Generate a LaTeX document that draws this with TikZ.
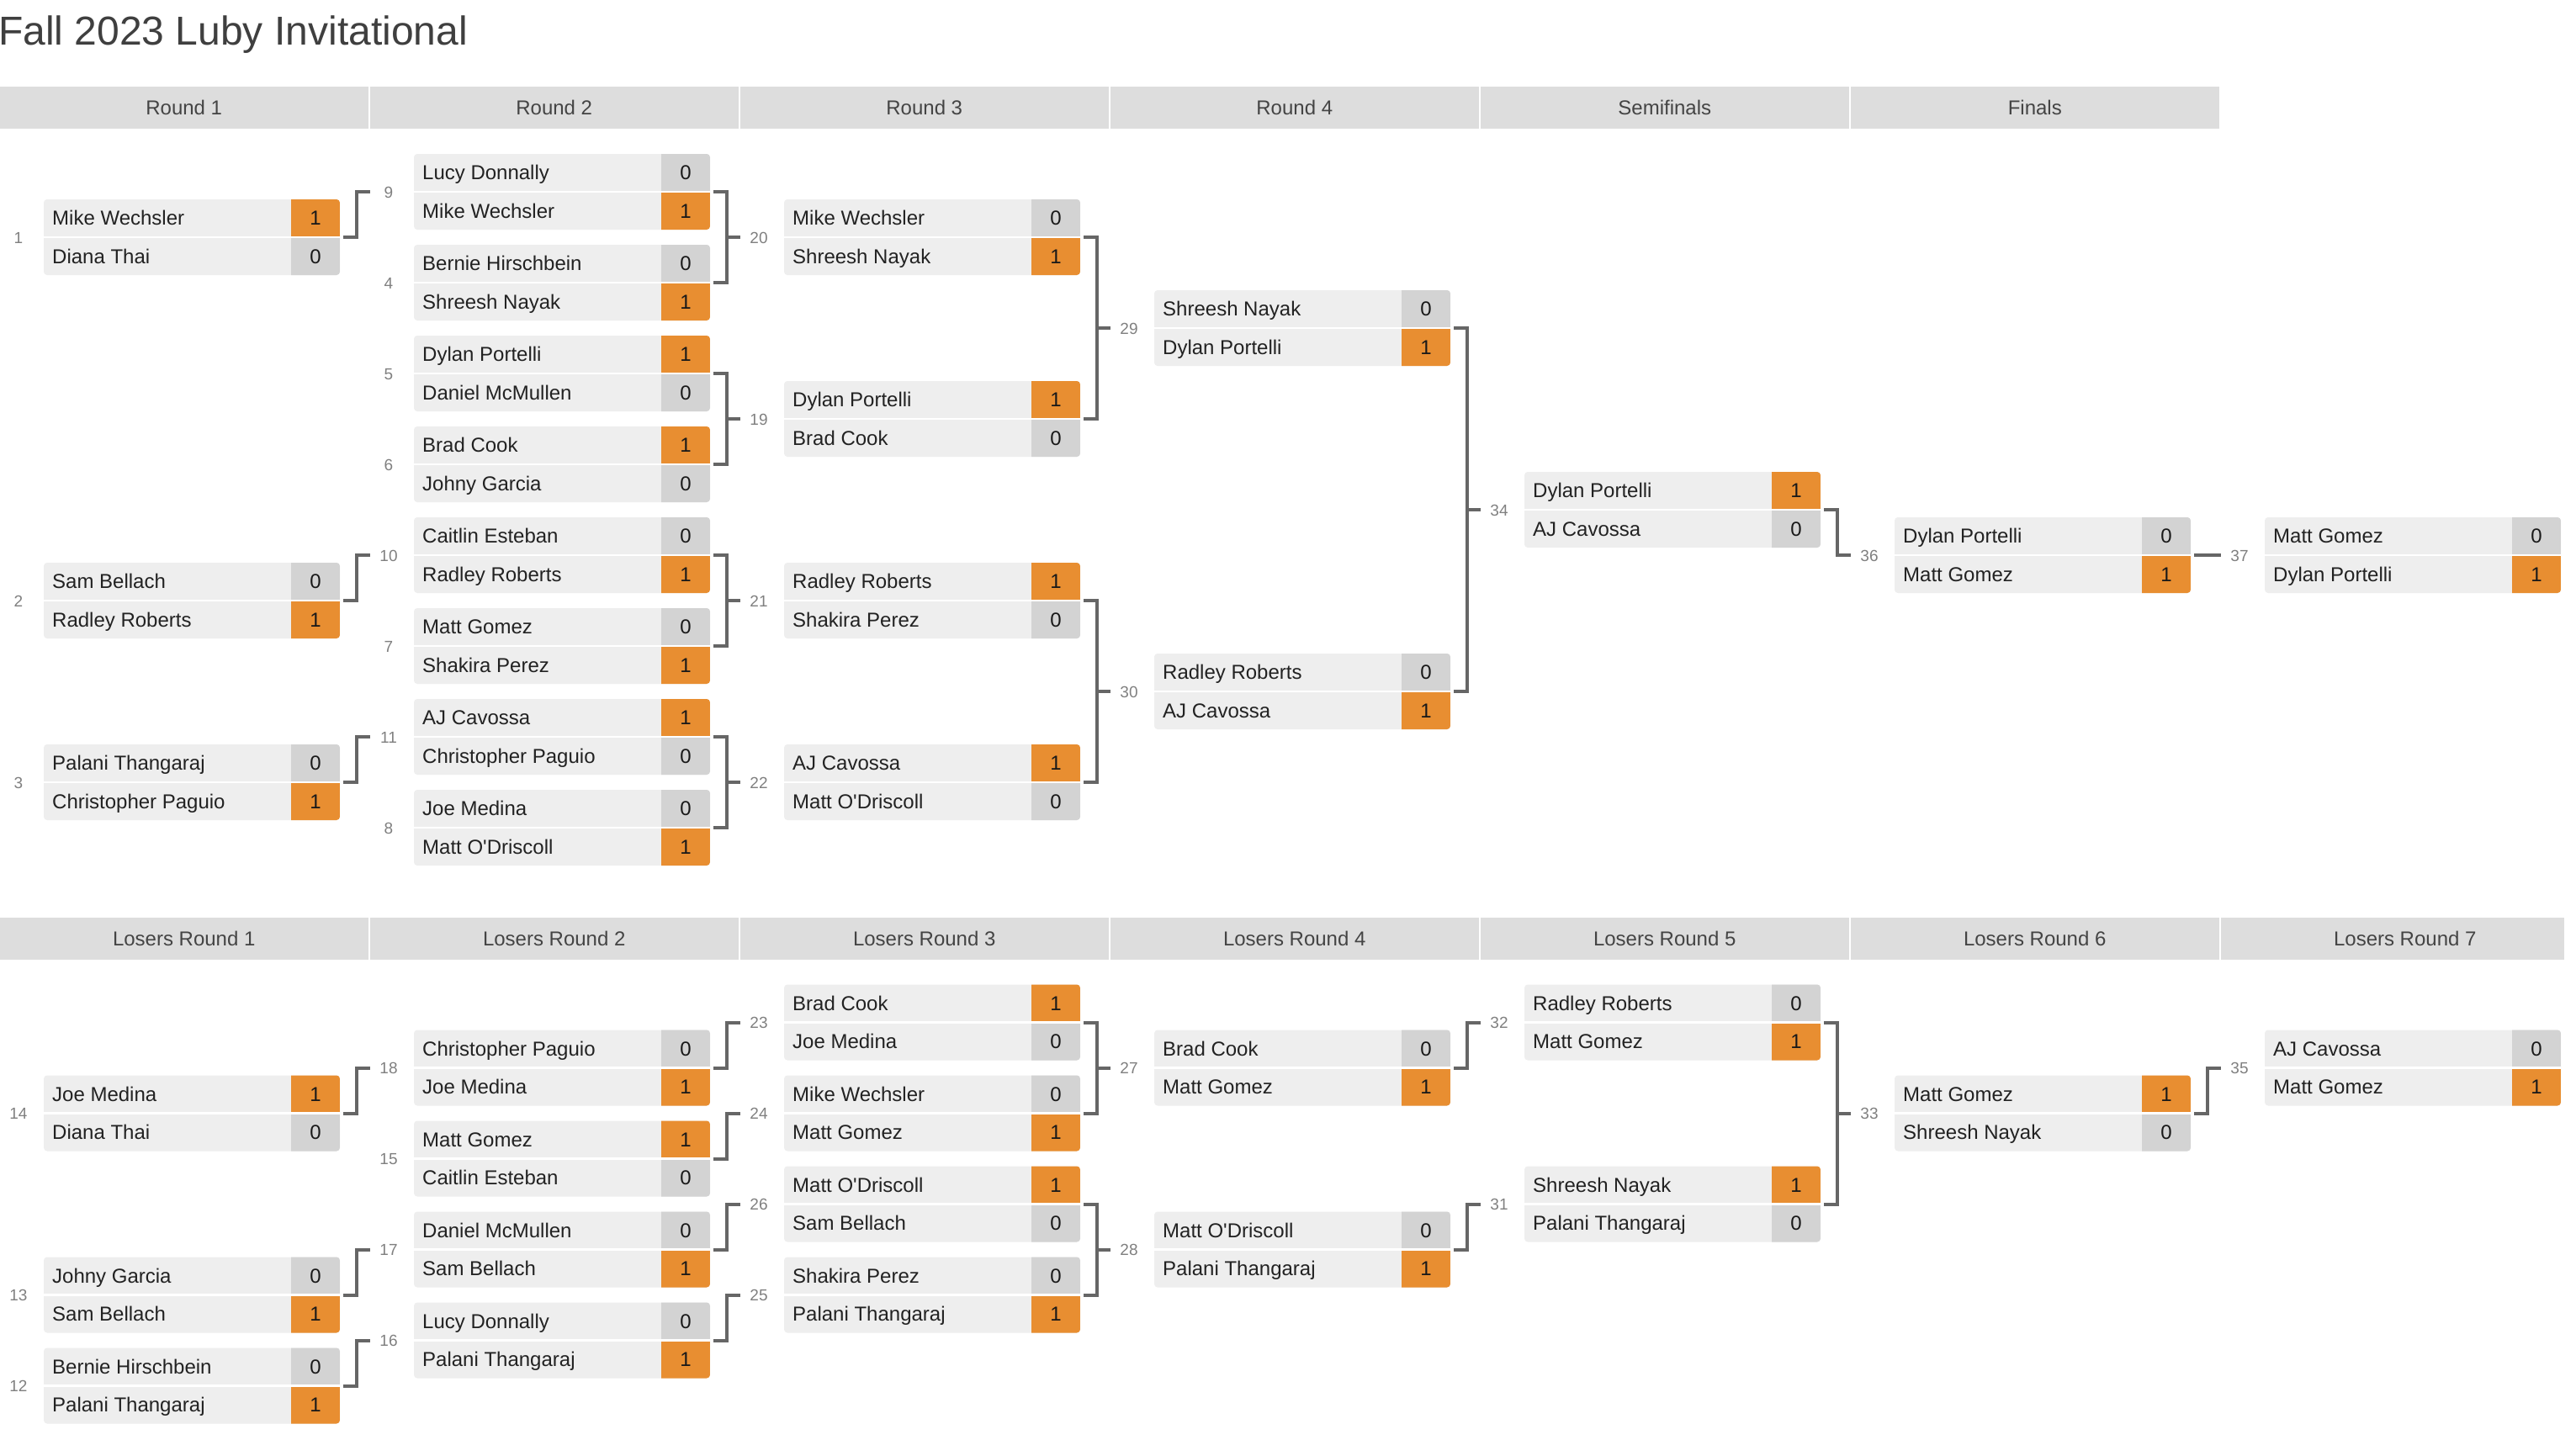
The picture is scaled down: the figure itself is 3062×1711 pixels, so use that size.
\documentclass[tikz,border=0pt]{standalone}
\usepackage{fontspec}
\setmainfont{Liberation Sans}[Ligatures=TeXOff]
\definecolor{boxbg}{HTML}{EEEEEE}
\definecolor{losecell}{HTML}{D3D3D3}
\definecolor{wincell}{HTML}{E88E31}
\definecolor{hdrbg}{HTML}{DDDDDD}
\definecolor{linecol}{HTML}{666666}
\definecolor{numcol}{HTML}{808080}
\definecolor{hdrtext}{HTML}{444444}
\definecolor{titlecol}{HTML}{3F3F3F}
\definecolor{nametext}{HTML}{222222}
\tikzset{
  matchbox/.style={draw=none, fill=boxbg, rounded corners=4pt, minimum width=352pt, minimum height=90pt, inner sep=0pt, outer sep=0pt},
  pname/.style={anchor=base west, inner sep=0pt, font=\fontsize{24}{28}\selectfont, text=nametext},
  pscore/.style={anchor=base, inner sep=0pt, font=\fontsize{24}{28}\selectfont, text=black!90},
  mnum/.style={anchor=base, inner sep=0pt, font=\fontsize{19}{22}\selectfont, text=numcol},
  hdrbar/.style={draw=none, fill=hdrbg, minimum height=50pt, inner sep=0pt, outer sep=0pt},
  hdrlabel/.style={anchor=base, inner sep=0pt, font=\fontsize{24}{28}\selectfont, text=hdrtext},
  link/.style={draw=linecol, line width=4pt, line cap=butt, line join=miter},
}
% #1 id, #2 column, #3 centre y, #4 name1, #5 score1, #6 name2, #7 score2
\newcommand\bmatch[7]{%
  \pgfmathsetmacro\mbx{52+440*#2}%
  \pgfmathsetmacro\mlx{22+440*#2}%
  \ifnum#5>#7\def\mtc{wincell}\def\mbc{losecell}\else\def\mtc{losecell}\def\mbc{wincell}\fi
  \node[matchbox] (m#1) at (\mbx+176,#3) {};
  \begin{scope}
    \clip[rounded corners=4pt] (m#1.south west) rectangle (m#1.north east);
    \fill[\mtc] (\mbx+294,#3-46) rectangle (\mbx+353,#3);
    \fill[\mbc] (\mbx+294,#3) rectangle (\mbx+353,#3+46);
  \end{scope}
  \draw[white, line width=2.5pt] (m#1.west) -- (m#1.east);
  \node[pname] (m#1pa) at (\mbx+10,#3-14.5) {#4};
  \node[pscore] (m#1sa) at (\mbx+323,#3-14.5) {#5};
  \node[pname] (m#1pb) at (\mbx+10,#3+31) {#6};
  \node[pscore] (m#1sb) at (\mbx+323,#3+31) {#7};
  \node[mnum] (m#1n) at (\mlx,#3+7) {#1};
}
% two feeders #1, #2 into target #3
\newcommand\pairlink[3]{%
  \draw[link] ([xshift=4pt]m#1.east) -- ++(16pt,0) |- ([xshift=4pt]m#2.east);
  \draw[link] ([xshift=20pt]m#1.east) |- ([xshift=-52pt]m#3.west);
}
% one feeder #1 into target #2
\newcommand\onelink[2]{%
  \draw[link] ([xshift=4pt]m#1.east) -- ++(16pt,0) |- ([xshift=-52pt]m#2.west);
}
\begin{document}
\begin{tikzpicture}[x=1pt,y=-1pt]
\useasboundingbox (0,0) rectangle (3062,1711);
\fill[white] (0,0) rectangle (3062,1711);

\node[anchor=base west, inner sep=0pt, font=\fontsize{48}{56}\selectfont, text=titlecol] (title) at (-2,53) {Fall 2023 Luby Invitational};

% winners headers
\foreach \c/\t in {0/Round 1,1/Round 2,2/Round 3,3/Round 4,4/Semifinals,5/Finals}{
  \node[hdrbar, minimum width=437.5pt] (hw\c) at (218.75+440*\c,128) {};
  \node[hdrlabel] (hw\c t) at (218.75+440*\c,136.7) {\t};
}
% losers headers
\foreach \c in {0,...,5}{
  \pgfmathtruncatemacro\lr{\c+1}
  \node[hdrbar, minimum width=437.5pt] (hl\c) at (218.75+440*\c,1116) {};
  \node[hdrlabel] (hl\c t) at (218.75+440*\c,1124.7) {Losers Round \lr};
}
\node[hdrbar, minimum width=408pt] (hl6) at (2844,1116) {};
\node[hdrlabel] (hl6t) at (2858.75,1124.7) {Losers Round 7};

% ---------------- winners bracket ----------------
\bmatch{1}{0}{282}{Mike Wechsler}{1}{Diana Thai}{0}
\bmatch{2}{0}{714}{Sam Bellach}{0}{Radley Roberts}{1}
\bmatch{3}{0}{930}{Palani Thangaraj}{0}{Christopher Paguio}{1}

\bmatch{9}{1}{228}{Lucy Donnally}{0}{Mike Wechsler}{1}
\bmatch{4}{1}{336}{Bernie Hirschbein}{0}{Shreesh Nayak}{1}
\bmatch{5}{1}{444}{Dylan Portelli}{1}{Daniel McMullen}{0}
\bmatch{6}{1}{552}{Brad Cook}{1}{Johny Garcia}{0}
\bmatch{10}{1}{660}{Caitlin Esteban}{0}{Radley Roberts}{1}
\bmatch{7}{1}{768}{Matt Gomez}{0}{Shakira Perez}{1}
\bmatch{11}{1}{876}{AJ Cavossa}{1}{Christopher Paguio}{0}
\bmatch{8}{1}{984}{Joe Medina}{0}{Matt O'Driscoll}{1}

\bmatch{20}{2}{282}{Mike Wechsler}{0}{Shreesh Nayak}{1}
\bmatch{19}{2}{498}{Dylan Portelli}{1}{Brad Cook}{0}
\bmatch{21}{2}{714}{Radley Roberts}{1}{Shakira Perez}{0}
\bmatch{22}{2}{930}{AJ Cavossa}{1}{Matt O'Driscoll}{0}

\bmatch{29}{3}{390}{Shreesh Nayak}{0}{Dylan Portelli}{1}
\bmatch{30}{3}{822}{Radley Roberts}{0}{AJ Cavossa}{1}

\bmatch{34}{4}{606}{Dylan Portelli}{1}{AJ Cavossa}{0}
\bmatch{36}{5}{660}{Dylan Portelli}{0}{Matt Gomez}{1}
\bmatch{37}{6}{660}{Matt Gomez}{0}{Dylan Portelli}{1}

\onelink{1}{9}
\onelink{2}{10}
\onelink{3}{11}
\pairlink{9}{4}{20}
\pairlink{5}{6}{19}
\pairlink{10}{7}{21}
\pairlink{11}{8}{22}
\pairlink{20}{19}{29}
\pairlink{21}{22}{30}
\pairlink{29}{30}{34}
\onelink{34}{36}
\draw[link] ([xshift=4pt]m36.east) -- ([xshift=-52pt]m37.west);

% ---------------- losers bracket ----------------
\bmatch{14}{0}{1323.5}{Joe Medina}{1}{Diana Thai}{0}
\bmatch{13}{0}{1539.5}{Johny Garcia}{0}{Sam Bellach}{1}
\bmatch{12}{0}{1647.5}{Bernie Hirschbein}{0}{Palani Thangaraj}{1}

\bmatch{18}{1}{1269.5}{Christopher Paguio}{0}{Joe Medina}{1}
\bmatch{15}{1}{1377.5}{Matt Gomez}{1}{Caitlin Esteban}{0}
\bmatch{17}{1}{1485.5}{Daniel McMullen}{0}{Sam Bellach}{1}
\bmatch{16}{1}{1593.5}{Lucy Donnally}{0}{Palani Thangaraj}{1}

\bmatch{23}{2}{1215.5}{Brad Cook}{1}{Joe Medina}{0}
\bmatch{24}{2}{1323.5}{Mike Wechsler}{0}{Matt Gomez}{1}
\bmatch{26}{2}{1431.5}{Matt O'Driscoll}{1}{Sam Bellach}{0}
\bmatch{25}{2}{1539.5}{Shakira Perez}{0}{Palani Thangaraj}{1}

\bmatch{27}{3}{1269.5}{Brad Cook}{0}{Matt Gomez}{1}
\bmatch{28}{3}{1485.5}{Matt O'Driscoll}{0}{Palani Thangaraj}{1}

\bmatch{32}{4}{1215.5}{Radley Roberts}{0}{Matt Gomez}{1}
\bmatch{31}{4}{1431.5}{Shreesh Nayak}{1}{Palani Thangaraj}{0}

\bmatch{33}{5}{1323.5}{Matt Gomez}{1}{Shreesh Nayak}{0}
\bmatch{35}{6}{1269.5}{AJ Cavossa}{0}{Matt Gomez}{1}

\onelink{14}{18}
\onelink{13}{17}
\onelink{12}{16}
\onelink{18}{23}
\onelink{15}{24}
\onelink{17}{26}
\onelink{16}{25}
\pairlink{23}{24}{27}
\pairlink{26}{25}{28}
\onelink{27}{32}
\onelink{28}{31}
\pairlink{32}{31}{33}
\onelink{33}{35}
\end{tikzpicture}
\end{document}
